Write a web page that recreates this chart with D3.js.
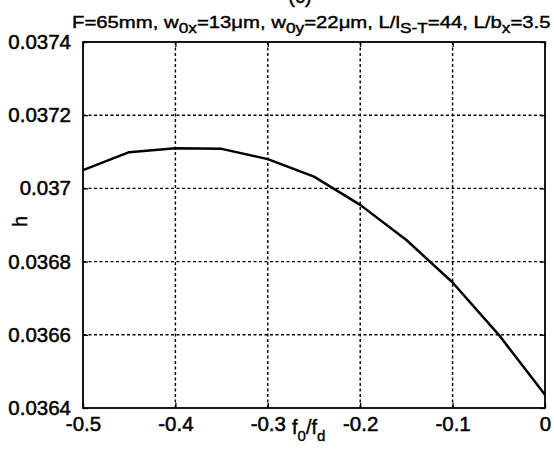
<!DOCTYPE html>
<html>
<head>
<meta charset="utf-8">
<script src="https://cdn.jsdelivr.net/npm/d3@7"></script>
<style>
  body { margin: 0; background: #fff; }
  svg { font-family: "Liberation Sans", Arial, sans-serif; }
</style>
</head>
<body>
<div id="chart"></div>
<script>
const width = 554;
const height = 453;
const margin = { top: 42, right: 9, bottom: 45, left: 83 };

// f0/fd values and h
const ratioValues = [-0.5, -0.45, -0.4, -0.35, -0.3, -0.25, -0.2, -0.15, -0.1, -0.05, 0];
const hValues = [0.03705, 0.037099, 0.03711, 0.037108, 0.03708, 0.037032, 0.036955, 0.036859, 0.036743, 0.0366, 0.036436];

const xTicks = [-0.5, -0.4, -0.3, -0.2, -0.1, 0];
const xTickLabels = ["-0.5", "-0.4", "-0.3", "-0.2", "-0.1", "0"];
const yTicks = [0.0364, 0.0366, 0.0368, 0.037, 0.0372, 0.0374];
const yTickLabels = ["0.0364", "0.0366", "0.0368", "0.037", "0.0372", "0.0374"];

const svg = d3.select("#chart").append("svg")
    .attr("width", width)
    .attr("height", height);

const x = d3.scaleLinear()
    .domain([-0.5, 0])
    .range([margin.left, width - margin.right]);

const y = d3.scaleLinear()
    .domain([0.0364, 0.0374])
    .range([height - margin.bottom, margin.top]);

const plotW = width - margin.left - margin.right;
const plotH = height - margin.top - margin.bottom;

// dotted grid
svg.append("g")
    .selectAll("line")
    .data(xTicks.slice(1, -1))
    .enter().append("line")
    .attr("x1", d => x(d)).attr("x2", d => x(d))
    .attr("y1", margin.top).attr("y2", height - margin.bottom)
    .attr("stroke", "#000")
    .attr("stroke-width", 1.4)
    .attr("stroke-dasharray", "3,2.5");

svg.append("g")
    .selectAll("line")
    .data(yTicks.slice(1, -1))
    .enter().append("line")
    .attr("x1", margin.left).attr("x2", width - margin.right)
    .attr("y1", d => y(d)).attr("y2", d => y(d))
    .attr("stroke", "#000")
    .attr("stroke-width", 1.4)
    .attr("stroke-dasharray", "3,2.5");

// axes with inward ticks
const xAxis = d3.axisBottom(x).tickValues(xTicks).tickSize(-5).tickPadding(8)
    .tickFormat((d, i) => xTickLabels[i]);
const xAxisTop = d3.axisTop(x).tickValues(xTicks).tickSize(-5).tickFormat("");
const yAxis = d3.axisLeft(y).tickValues(yTicks).tickSize(-5).tickPadding(12)
    .tickFormat((d, i) => yTickLabels[i]);
const yAxisRight = d3.axisRight(y).tickValues(yTicks).tickSize(-5).tickFormat("");

function styleAxis(g) {
    g.select(".domain").remove();
    g.selectAll(".tick line").attr("stroke", "#000").attr("stroke-width", 1.3);
    g.selectAll(".tick text")
        .attr("fill", "#000")
        .style("font-size", "20.5px")
        .attr("stroke", "#000")
        .attr("stroke-width", 0.5);
}

svg.append("g")
    .attr("transform", `translate(0,${height - margin.bottom})`)
    .call(xAxis).call(styleAxis);
svg.append("g")
    .attr("transform", `translate(0,${margin.top})`)
    .call(xAxisTop).call(styleAxis);
svg.append("g")
    .attr("transform", `translate(${margin.left},0)`)
    .call(yAxis).call(styleAxis);
svg.append("g")
    .attr("transform", `translate(${width - margin.right},0)`)
    .call(yAxisRight).call(styleAxis);

// box
svg.append("rect")
    .attr("x", margin.left).attr("y", margin.top)
    .attr("width", plotW).attr("height", plotH)
    .attr("fill", "none")
    .attr("stroke", "#000")
    .attr("stroke-width", 1.8);

// curve
const line = d3.line()
    .x((d, i) => x(ratioValues[i]))
    .y(d => y(d));

svg.append("path")
    .datum(hValues)
    .attr("d", line)
    .attr("fill", "none")
    .attr("stroke", "#000")
    .attr("stroke-width", 2.5)
    .attr("stroke-linejoin", "round");

// panel letter, cut by the top edge
svg.append("text")
    .attr("x", 300).attr("y", 3)
    .attr("text-anchor", "middle")
    .style("font-size", "20px")
    .attr("stroke", "#000").attr("stroke-width", 0.4)
    .text("(c)");

// title, stretched to the width seen in the scan
const titleX = 72;
const title = svg.append("text")
    .attr("x", titleX).attr("y", 28)
    .style("font-size", "16.5px")
    .attr("fill", "#000")
    .attr("stroke", "#000").attr("stroke-width", 0.4);

const titleParts = [
    ["F=65mm, w", 0], ["0x", 1], ["=13\u03bcm, w", 0], ["0y", 1], ["=22\u03bcm, L/l", 0],
    ["S-T", 1], ["=44, L/b", 0], ["x", 1], ["=3.5", 0]
];
titleParts.forEach(([t, sub], i) => {
    const ts = title.append("tspan").text(t);
    if (sub) ts.attr("dy", 5).style("font-size", "14px");
    else if (i > 0) ts.attr("dy", -5);
});
const titleLen = title.node().getComputedTextLength();
const sx = 479 / titleLen;
title.attr("transform", `translate(${titleX},0) scale(${sx},1) translate(${-titleX},0)`);

// axis labels
const xLabel = svg.append("text")
    .attr("x", 292).attr("y", 434)
    .style("font-size", "20px")
    .attr("stroke", "#000").attr("stroke-width", 0.4);
xLabel.append("tspan").text("f");
xLabel.append("tspan").text("0").attr("dy", 7).style("font-size", "15px");
xLabel.append("tspan").text("/f").attr("dy", -7);
xLabel.append("tspan").text("d").attr("dy", 7).style("font-size", "15px");

svg.append("text")
    .attr("transform", `translate(27,${y(0.03691)}) rotate(-90)`)
    .attr("text-anchor", "middle")
    .style("font-size", "20px")
    .attr("stroke", "#000").attr("stroke-width", 0.4)
    .text("h");
</script>
</body>
</html>
